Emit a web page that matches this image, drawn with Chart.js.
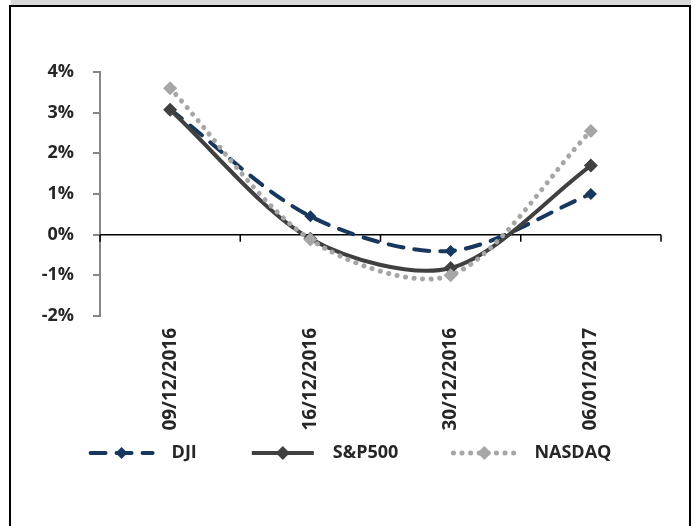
<!DOCTYPE html>
<html>
<head>
<meta charset="utf-8">
<script src="https://cdn.jsdelivr.net/npm/chart.js@4/dist/chart.umd.min.js"></script>
<style>
  html, body { margin: 0; padding: 0; background: #fff; }
  #frame { position: relative; width: 694px; height: 526px; overflow: hidden; }
  #band { position: absolute; left: 11px; right: 3px; top: 0; height: 5px; background: #d9d9d9; }
  #topline { position: absolute; left: 9px; right: 3px; top: 5px; height: 2px; background: #000; }
  #leftline { position: absolute; left: 9px; top: 5px; bottom: 0; width: 2px; background: #000; }
  #rightline { position: absolute; right: 3px; top: 5px; bottom: 0; width: 2px; background: #000; }
  canvas { position: absolute; left: 0; top: 0; }
</style>
</head>
<body>
<div id="frame">
  <div id="band"></div>
  <div id="topline"></div>
  <div id="leftline"></div>
  <div id="rightline"></div>
  <canvas id="perfChart" width="694" height="526"></canvas>
</div>
<script>
const dates = ["09/12/2016", "16/12/2016", "30/12/2016", "06/01/2017"];
const dji = [3.08, 0.45, -0.4, 1.0];
const sp500 = [3.07, -0.1, -0.82, 1.7];
const nasdaq = [3.6, -0.12, -1.0, 2.55];
const yTicks = [-2, -1, 0, 1, 2, 3, 4];

const textColor = "#262626";
const fontFamily = "'Open Sans', 'DejaVu Sans', sans-serif";

// zero line with the category boundary ticks
const zeroAxis = {
  id: "zeroAxis",
  beforeDatasetsDraw(chart) {
    const { ctx, chartArea, scales } = chart;
    const y0 = scales.y.getPixelForValue(0);
    const n = dates.length;
    const step = (chartArea.right - chartArea.left) / n;
    ctx.save();
    ctx.strokeStyle = "#000";
    ctx.lineWidth = 1.5;
    ctx.beginPath();
    ctx.moveTo(chartArea.left, y0);
    ctx.lineTo(chartArea.right, y0);
    for (let i = 0; i <= n; i++) {
      const x = chartArea.left + i * step;
      ctx.moveTo(x, y0);
      ctx.lineTo(x, y0 + 7);
    }
    ctx.stroke();
    ctx.restore();
  }
};

// legend drawn as line samples with a diamond in the middle
const lineLegend = {
  id: "lineLegend",
  afterDraw(chart) {
    const { ctx } = chart;
    const sampleW = 66, textGap = 17, itemGap = 53, y = 453;
    ctx.save();
    ctx.font = "bold 18px " + fontFamily;
    const items = chart.data.datasets.map(ds => ({ ds, w: ctx.measureText(ds.label).width }));
    const total = items.reduce((s, it) => s + sampleW + textGap + it.w, 0) + itemGap * (items.length - 1);
    let x = chart.width / 2 - total / 2 + 3;
    items.forEach(({ ds, w }) => {
      ctx.save();
      ctx.strokeStyle = ds.borderColor;
      ctx.lineWidth = ds.borderWidth;
      ctx.lineCap = ds.borderCapStyle || "butt";
      ctx.setLineDash(ds.borderDash || []);
      ctx.beginPath();
      ctx.moveTo(x + 2, y);
      ctx.lineTo(x + sampleW - 2, y);
      ctx.stroke();
      ctx.setLineDash([]);
      const r = ds.pointRadius;
      const cx = x + sampleW / 2;
      ctx.fillStyle = ds.pointBackgroundColor;
      ctx.beginPath();
      ctx.moveTo(cx, y - r);
      ctx.lineTo(cx + r, y);
      ctx.lineTo(cx, y + r);
      ctx.lineTo(cx - r, y);
      ctx.closePath();
      ctx.fill();
      ctx.restore();
      ctx.fillStyle = textColor;
      ctx.textBaseline = "middle";
      ctx.fillText(ds.label, x + sampleW + textGap, y);
      x += sampleW + textGap + w + itemGap;
    });
    ctx.restore();
  }
};

new Chart(document.getElementById("perfChart"), {
  type: "line",
  data: {
    labels: dates,
    datasets: [
      {
        label: "DJI",
        data: dji,
        order: 3,
        borderColor: "#17375e",
        backgroundColor: "#17375e",
        pointBackgroundColor: "#17375e",
        pointBorderWidth: 0,
        borderWidth: 4,
        borderDash: [15, 11],
        borderCapStyle: "round",
        pointStyle: "rectRot",
        pointRadius: 6,
        tension: 0.3
      },
      {
        label: "S&P500",
        data: sp500,
        order: 2,
        borderColor: "#404040",
        backgroundColor: "#404040",
        pointBackgroundColor: "#404040",
        pointBorderWidth: 0,
        borderWidth: 4,
        pointStyle: "rectRot",
        pointRadius: 7,
        tension: 0.3
      },
      {
        label: "NASDAQ",
        data: nasdaq,
        order: 1,
        borderColor: "#a6a6a6",
        backgroundColor: "#a6a6a6",
        pointBackgroundColor: "#a6a6a6",
        pointBorderWidth: 0,
        borderWidth: 5,
        borderDash: [0.1, 8.5],
        borderCapStyle: "round",
        pointStyle: "rectRot",
        pointRadius: 7,
        tension: 0.3
      }
    ]
  },
  options: {
    responsive: false,
    animation: false,
    layout: { padding: { left: 20, right: 33, top: 72, bottom: 90 } },
    plugins: {
      legend: { display: false },
      tooltip: { enabled: false }
    },
    scales: {
      x: {
        offset: true,
        border: { display: false },
        grid: { display: false, drawTicks: false },
        ticks: {
          minRotation: 90,
          maxRotation: 90,
          padding: 12,
          color: textColor,
          font: { family: fontFamily, size: 19, weight: "bold" }
        },
        afterFit(scale) { scale.height = 120; }
      },
      y: {
        min: -2,
        max: 4,
        border: { display: true, color: "#868686", width: 2 },
        grid: { drawOnChartArea: false, drawTicks: true, tickLength: 7, color: "#868686", lineWidth: 2 },
        afterBuildTicks(scale) { scale.ticks = yTicks.map(v => ({ value: v })); },
        ticks: {
          padding: 19,
          color: textColor,
          font: { family: fontFamily, size: 18, weight: "bold" },
          callback: v => v + "%"
        },
        afterFit(scale) { scale.width = 80; }
      }
    }
  },
  plugins: [zeroAxis, lineLegend]
});
</script>
</body>
</html>
